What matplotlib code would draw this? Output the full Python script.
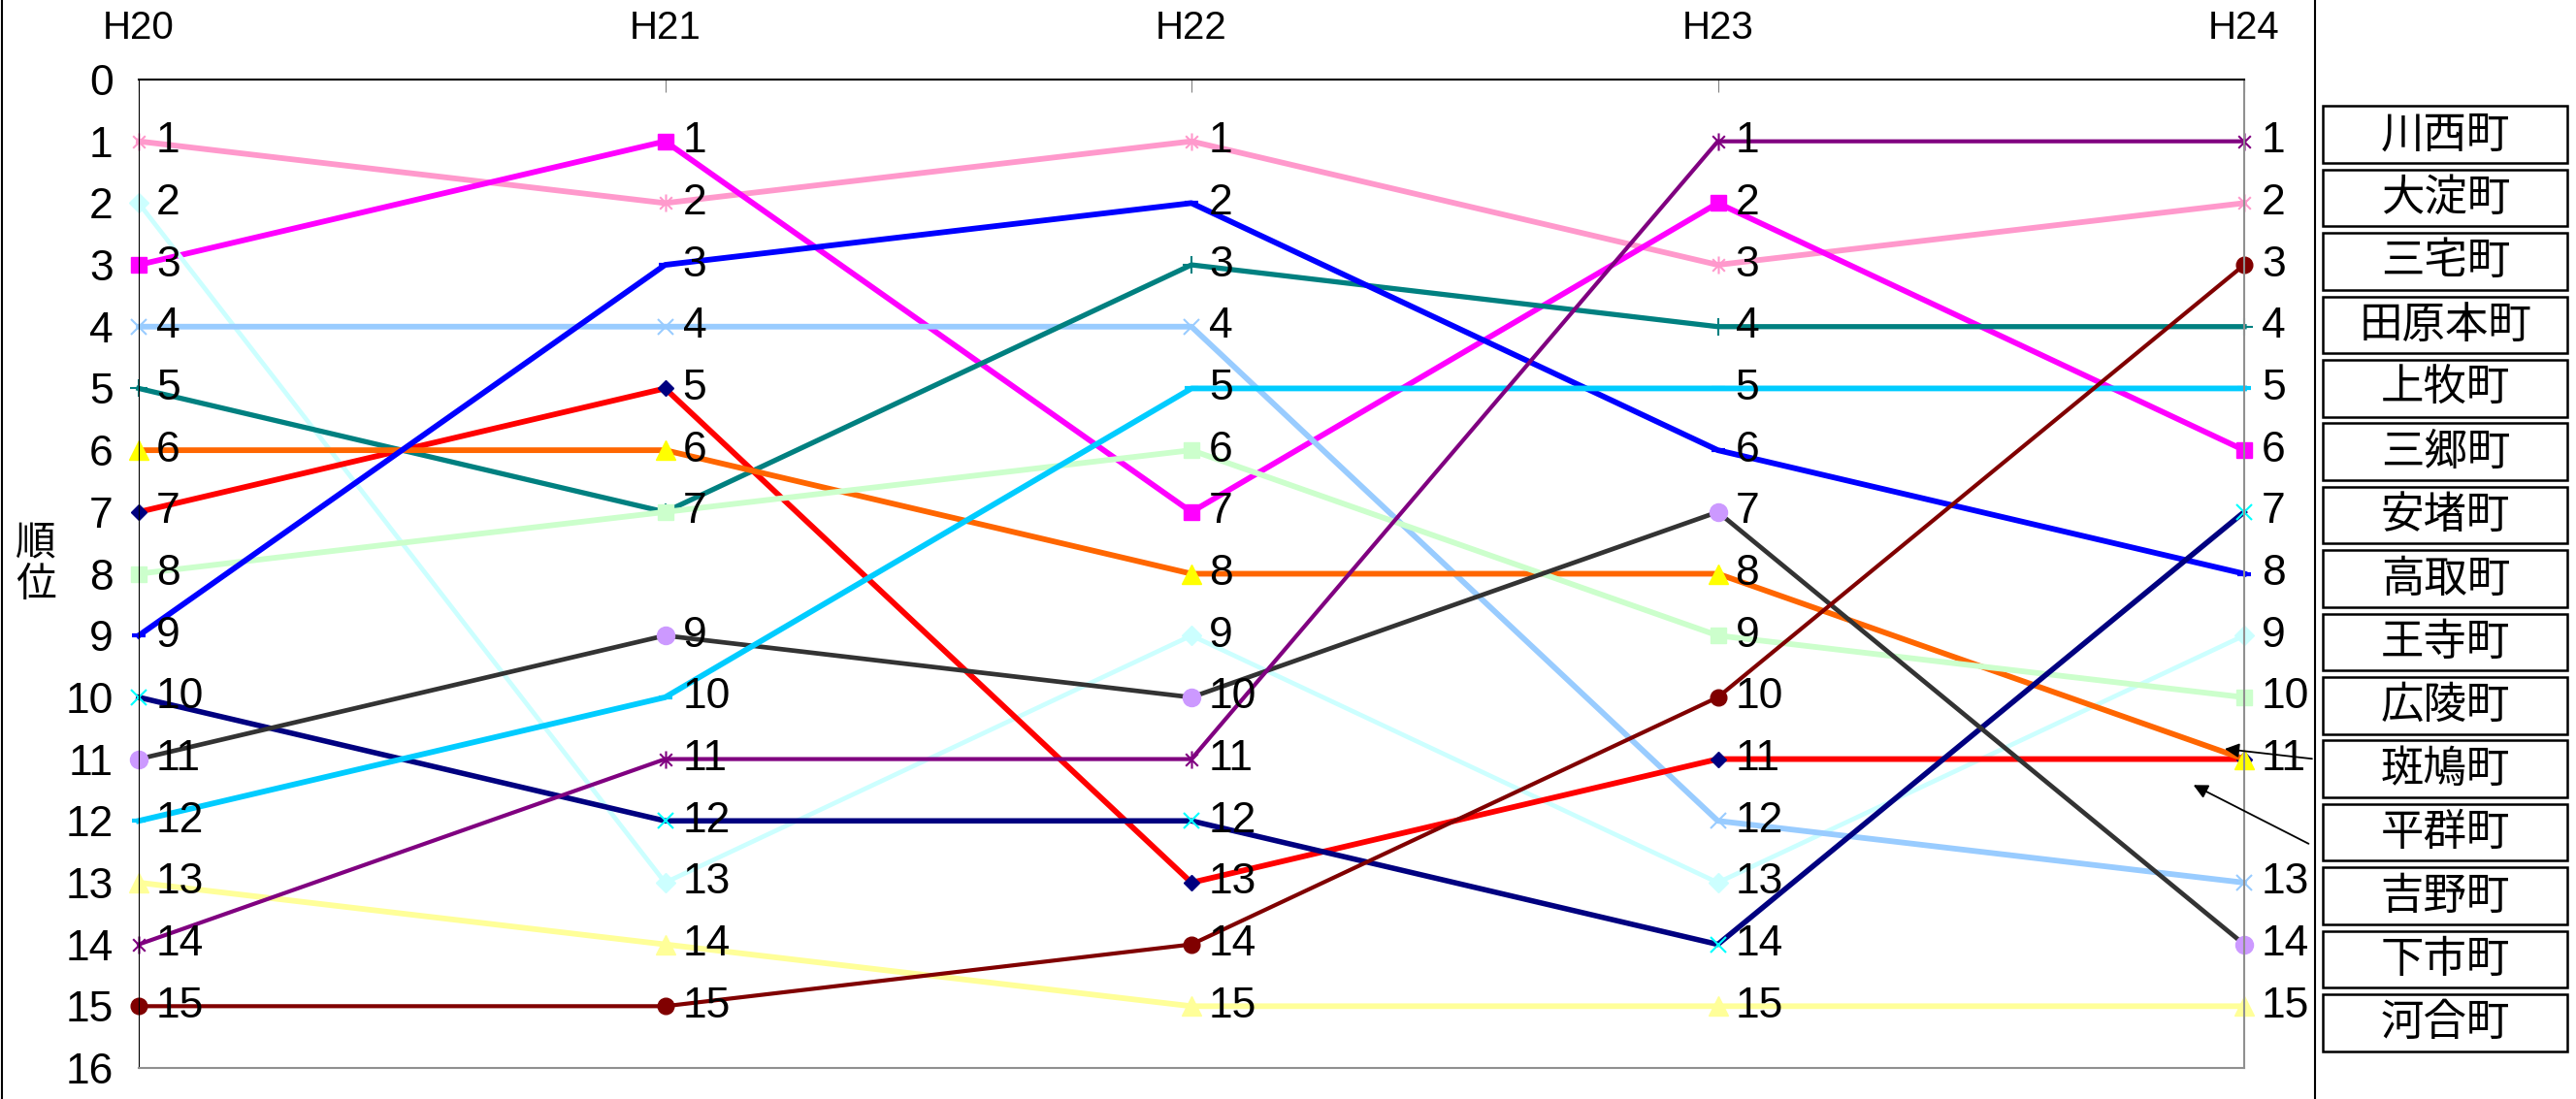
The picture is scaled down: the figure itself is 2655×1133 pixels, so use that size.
import matplotlib
matplotlib.use("Agg")
import matplotlib.pyplot as plt
import matplotlib.transforms as mtransforms
from matplotlib.path import Path
from matplotlib.patches import Rectangle
from matplotlib.lines import Line2D

# data: rank of each town per fiscal year (H20..H24)
years = ["H20", "H21", "H22", "H23", "H24"]
towns = ["川西町", "大淀町", "三宅町", "田原本町", "上牧町", "三郷町", "安堵町", "高取町",
         "王寺町", "広陵町", "斑鳩町", "平群町", "吉野町", "下市町", "河合町"]
rank_kawanishi = [14, 11, 11, 1, 1]
rank_oyodo = [1, 2, 1, 3, 2]
rank_miyake = [15, 15, 14, 10, 3]
rank_tawaramoto = [5, 7, 3, 4, 4]
rank_kanmaki = [12, 10, 5, 5, 5]
rank_sango = [3, 1, 7, 2, 6]
rank_ando = [10, 12, 12, 14, 7]
rank_takatori = [9, 3, 2, 6, 8]
rank_oji = [2, 13, 9, 13, 9]
rank_koryo = [8, 7, 6, 9, 10]
rank_ikaruga = [6, 6, 8, 8, 11]
rank_heguri = [7, 5, 13, 11, 11]
rank_yoshino = [4, 4, 4, 12, 13]
rank_shimoichi = [11, 9, 10, 7, 14]
rank_kawai = [13, 14, 15, 15, 15]

ranks = {
    "川西町": rank_kawanishi, "大淀町": rank_oyodo, "三宅町": rank_miyake,
    "田原本町": rank_tawaramoto, "上牧町": rank_kanmaki, "三郷町": rank_sango,
    "安堵町": rank_ando, "高取町": rank_takatori, "王寺町": rank_oji,
    "広陵町": rank_koryo, "斑鳩町": rank_ikaruga, "平群町": rank_heguri,
    "吉野町": rank_yoshino, "下市町": rank_shimoichi, "河合町": rank_kawai,
}

# excel style asterisk (x + vertical bar)
star = Path([(0, -1), (0, 1), (-0.7, -0.7), (0.7, 0.7), (-0.7, 0.7), (0.7, -0.7)],
            [Path.MOVETO, Path.LINETO, Path.MOVETO, Path.LINETO, Path.MOVETO, Path.LINETO])

# town: (line colour, line width, marker, marker colour, marker size, marker edge width)
styles = {
    "大淀町": ("#FF99CC", 4.2, star, "#FF99CC", 13, 1.5),
    "三郷町": ("#FF00FF", 4.2, "s", "#FF00FF", 12, 1),
    "王寺町": ("#CCFFFF", 3.4, "D", "#CCFFFF", 10, 1),
    "吉野町": ("#99CCFF", 4.2, "x", "#99CCFF", 12, 1.5),
    "田原本町": ("#008080", 3.8, "+", "#008080", 13, 1.5),
    "平群町": ("#FF0000", 4.2, "D", "#000080", 8, 1),
    "斑鳩町": ("#FF6600", 4.2, "^", "#FFFF00", 14, 1),
    "広陵町": ("#CCFFCC", 4.2, "s", "#CCFFCC", 12, 1),
    "高取町": ("#0000FF", 4.2, "_", "#0000FF", 10, 3),
    "安堵町": ("#000080", 4.0, "x", "#00FFFF", 12, 1.5),
    "下市町": ("#333333", 3.4, "o", "#CC99FF", 13, 1),
    "上牧町": ("#00CCFF", 4.2, "_", "#00CCFF", 10, 3),
    "河合町": ("#FFFF99", 4.2, "^", "#FFFF99", 14, 1),
    "川西町": ("#800080", 3.0, star, "#800080", 13, 1.5),
    "三宅町": ("#800000", 3.0, "o", "#800000", 12, 1),
}

narrow = ["Liberation Sans Narrow", "Liberation Sans", "DejaVu Sans"]
regular = ["Liberation Sans", "DejaVu Sans"]
cjk = ["Noto Sans CJK JP", "DejaVu Sans"]

fig = plt.figure(figsize=(26.55, 11.33), dpi=100)
ax = fig.add_axes([143 / 2655, 1 - 1101 / 1133, (2313 - 143) / 2655, (1101 - 82) / 1133])

x = list(range(len(years)))
for town, (lc, lw, mk, mc, ms, mew) in styles.items():
    filled = mk not in ("x", "+", "_") and not isinstance(mk, Path)
    ax.plot(x, ranks[town], color=lc, lw=lw, marker=mk, ms=ms,
            markerfacecolor=mc if filled else "none", markeredgecolor=mc,
            markeredgewidth=mew, clip_on=False)

# rank labels next to each point (one per distinct rank)
for i in x:
    seen = sorted(set(r[i] for r in ranks.values()))
    for r in seen:
        ax.annotate(str(r), (i, r), xytext=(13, 0), textcoords="offset points",
                    ha="left", va="center", fontsize=32,
                    family=narrow if i < 4 else regular, annotation_clip=False)

ax.set_xlim(0, 4)
ax.set_ylim(16, 0)
ax.set_yticks(range(17))
ax.set_yticklabels([str(v) for v in range(17)], family=narrow, fontsize=32)
ax.tick_params(axis="y", length=0, pad=19)
ax.xaxis.tick_top()
ax.set_xticks(x)
ax.set_xticklabels([])
ax.tick_params(axis="x", direction="in", length=9, color="#808080")

# year labels above the plot
top = mtransforms.blended_transform_factory(ax.transData, fig.transFigure)
for i, yr in enumerate(years):
    ax.text(i, 1 - 29 / 1133, yr, transform=top, family=narrow, fontsize=29,
            ha="center", va="center")

ax.spines["left"].set_color("black")
ax.spines["top"].set_color("black")
ax.spines["top"].set_linewidth(1.5)
for side in ("right", "bottom"):
    ax.spines[side].set_color("#909090")
    ax.spines[side].set_linewidth(1.5)

fig.text(37 / 2655, 1 - 582 / 1133, "順\n位", family=cjk, fontsize=30,
         ha="center", va="center", linespacing=1.05)

# town name boxes on the right
lax = fig.add_axes([2386 / 2655, 1 - 1101 / 1133, 1 - 2386 / 2655, (1101 - 82) / 1133])
lax.set_xlim(0, 1)
lax.set_ylim(16, 0)
lax.axis("off")
for k, town in enumerate(towns):
    yc = 1.027 * (k + 1) - 0.137
    lax.add_patch(Rectangle((0.028, yc - 0.46), 0.94, 0.92, fill=False,
                            edgecolor="black", lw=1.8))
    lax.text(0.5, yc, town, family=cjk, fontsize=32, ha="center", va="center")

# arrows for the tied rank 11
ax.annotate("", xy=(3.958, 10.83), xytext=(4.134, 11.0), annotation_clip=False,
            arrowprops=dict(arrowstyle="-|>", color="black", lw=1.3, mutation_scale=22))
ax.annotate("", xy=(3.899, 11.40), xytext=(4.127, 12.39), annotation_clip=False,
            arrowprops=dict(arrowstyle="-|>", color="black", lw=1.3, mutation_scale=22))

# sheet borders
fig.add_artist(Line2D([2 / 2655, 2 / 2655], [0, 1], color="black", lw=1.5))
fig.add_artist(Line2D([2386 / 2655, 2386 / 2655], [0, 1], color="black", lw=1.5))

fig.savefig("out.png", dpi=100)
